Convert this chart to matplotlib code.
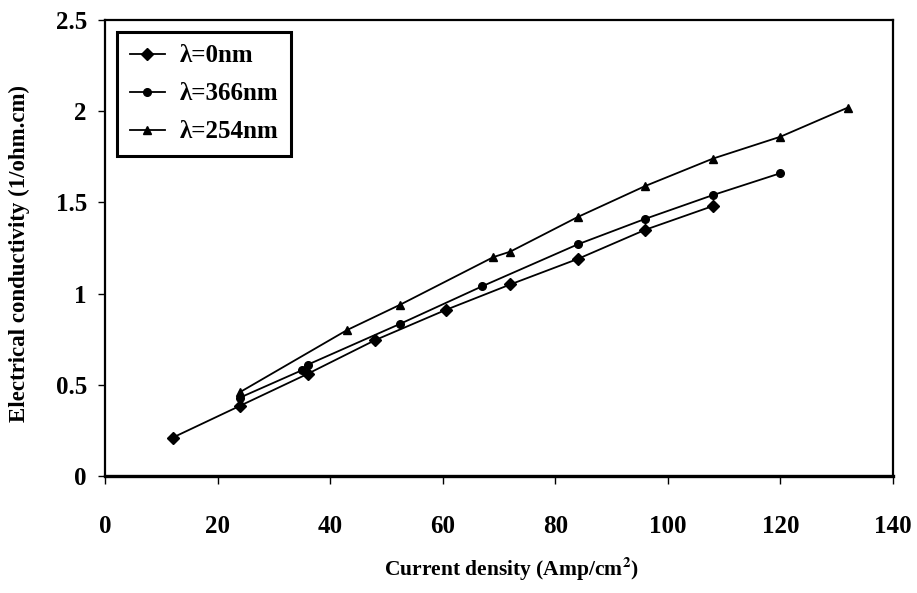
import matplotlib
matplotlib.use('Agg')
import matplotlib.pyplot as plt

# current density (Amp/cm2) and conductivity (1/ohm.cm) per wavelength
x_0nm = [12, 24, 36, 48, 60.5, 72, 84, 96, 108]
y_0nm = [0.21, 0.385, 0.56, 0.745, 0.91, 1.05, 1.19, 1.35, 1.48]

x_366nm = [24, 35, 36, 52.5, 67, 84, 96, 108, 120]
y_366nm = [0.43, 0.58, 0.61, 0.835, 1.04, 1.27, 1.41, 1.54, 1.66]

x_254nm = [24, 43, 52.5, 69, 72, 84, 96, 108, 120, 132]
y_254nm = [0.46, 0.80, 0.94, 1.20, 1.23, 1.42, 1.59, 1.74, 1.86, 2.02]

labels = ['λ=0nm', 'λ=366nm', 'λ=254nm']
x_ticks = [0, 20, 40, 60, 80, 100, 120, 140]
y_ticks = [0, 0.5, 1, 1.5, 2, 2.5]
y_ticklabels = ['0', '0.5', '1', '1.5', '2', '2.5']

plt.rcParams['font.family'] = ['Liberation Serif', 'DejaVu Serif']
plt.rcParams['mathtext.fontset'] = 'stix'

fig = plt.figure(figsize=(9.17, 5.93), dpi=100)
ax = fig.add_axes([0.1145, 0.1973, 0.8593, 0.769])

ax.plot(x_0nm, y_0nm, color='black', lw=1.3, marker='D', ms=6, label=labels[0])
ax.plot(x_366nm, y_366nm, color='black', lw=1.3, marker='o', ms=5.5, label=labels[1])
ax.plot(x_254nm, y_254nm, color='black', lw=1.3, marker='^', ms=6, label=labels[2])

ax.set_xlim(0, 140)
ax.set_ylim(0, 2.5)
ax.set_xticks(x_ticks)
ax.set_yticks(y_ticks)
ax.set_yticklabels(y_ticklabels)
ax.tick_params(axis='x', direction='out', length=6, width=1, pad=22, labelsize=18)
ax.tick_params(axis='y', direction='out', length=5, width=1, pad=8, labelsize=18)
for lbl in ax.get_xticklabels() + ax.get_yticklabels():
    lbl.set_fontweight('bold')
for sp in ax.spines.values():
    sp.set_linewidth(1.6)
ax.spines['bottom'].set_linewidth(2.4)

ax.set_xlabel('Current density (Amp/cm$^\\mathbf{2}$)', fontsize=15.5, fontweight='bold')
ax.set_ylabel('Electrical conductivity (1/ohm.cm)', fontsize=16.5, fontweight='bold')
ax.xaxis.set_label_coords(0.516, -0.173)
ax.yaxis.set_label_coords(-0.095, 0.487)

leg = ax.legend(loc='upper left', bbox_to_anchor=(117 / 917, 1 - 32 / 593),
                bbox_transform=fig.transFigure, borderaxespad=0,
                fancybox=False, framealpha=1, edgecolor='black',
                prop={'weight': 'bold', 'size': 18}, handlelength=1.4,
                labelspacing=0.6, borderpad=0.5, handletextpad=0.6)
leg.get_frame().set_linewidth(2.2)

fig.savefig('out.png', dpi=100)
